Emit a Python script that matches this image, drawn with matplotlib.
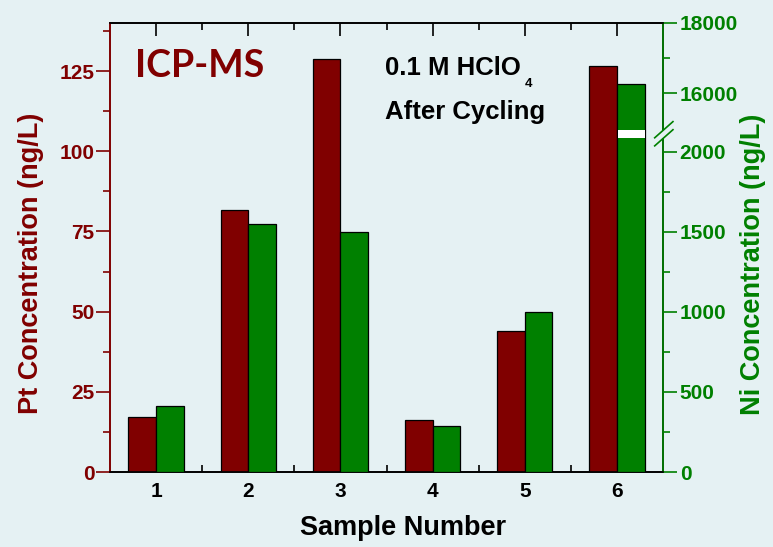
import numpy as np
import matplotlib
matplotlib.use("Agg")
import matplotlib.pyplot as plt
from matplotlib.ticker import FixedLocator

# ---- data ----
samples = [1, 2, 3, 4, 5, 6]
pt_conc = [17.0, 81.6, 128.9, 16.1, 44.0, 126.7]       # ng/L, left axis
ni_conc = [410, 1550, 1500, 287, 1000, 16250]          # ng/L, right axis (broken)

pt_ticks = [0, 25, 50, 75, 100, 125]
ni_ticks = [0, 500, 1000, 1500, 2000, 16000, 18000]
ni_minor = [250, 750, 1250, 1750, 17000]

# broken right axis: lower segment 0..BRK_LO, upper BRK_HI..18000
BRK_LO, BRK_HI = 2100, 14900
GAP = 28.0          # size of the break, in lower-segment units
K_UP = 0.21875      # upper segment compression vs lower
BAR_GAP = (2085, 14931)  # white cut through the tall Ni bar

RED = "#800000"
GREEN = "#008000"
BG = "#e5f1f3"
FONT = ["Liberation Sans", "DejaVu Sans"]


def fwd(v):
    v = np.asarray(v, dtype=float)
    mid = BRK_LO + (v - BRK_LO) * GAP / (BRK_HI - BRK_LO)
    up = BRK_LO + GAP + (v - BRK_HI) * K_UP
    return np.where(v <= BRK_LO, v, np.where(v >= BRK_HI, up, mid))


def inv(y):
    y = np.asarray(y, dtype=float)
    mid = BRK_LO + (y - BRK_LO) * (BRK_HI - BRK_LO) / GAP
    up = BRK_HI + (y - BRK_LO - GAP) / K_UP
    return np.where(y <= BRK_LO, y, np.where(y >= BRK_LO + GAP, up, mid))


plt.rcParams["font.family"] = FONT
plt.rcParams["font.weight"] = "bold"

fig = plt.figure(figsize=(7.73, 5.47), dpi=100, facecolor=BG)
ax = fig.add_axes([110 / 773, 1 - 472 / 547, 553 / 773, 449 / 547], facecolor=BG)
ax2 = ax.twinx()

x = np.array(samples, dtype=float)
w = 0.30
ax.bar(x - w / 2, pt_conc, width=w, color=RED, edgecolor="black", linewidth=0.9, zorder=3)

ax2.set_yscale("function", functions=(fwd, inv))
ax2.set_ylim(0, 18000)
ax2.bar(x + w / 2, ni_conc, width=w, color=GREEN, edgecolor="black", linewidth=0.9, zorder=3)
# white cut through the bar that crosses the break
ax2.bar(x[-1] + w / 2 + 0.01, BAR_GAP[1] - BAR_GAP[0], bottom=BAR_GAP[0], width=w,
        color="white", linewidth=0, zorder=4)

# ---- left axis ----
ax.set_xlim(0.5, 6.5)
ax.set_ylim(0, 140)
ax.set_yticks(pt_ticks)
ax.yaxis.set_minor_locator(FixedLocator(np.arange(12.5, 140, 25)))
ax.tick_params(axis="y", which="major", direction="out", length=10, width=1.2,
               color=RED, labelcolor=RED, labelsize=15, pad=1)
ax.tick_params(axis="y", which="minor", direction="out", length=5, width=1.2, color=RED)
ax.set_ylabel("Pt Concentration (ng/L)", color=RED, fontsize=19.5, fontweight="bold")
ax.yaxis.set_label_coords(-0.119, 0.465)

ax.set_xticks(samples)
ax.xaxis.set_minor_locator(FixedLocator(np.arange(1.5, 6.0, 1.0)))
ax.tick_params(axis="x", which="major", direction="in", length=9, width=1.2,
               top=True, labelsize=15, pad=7)
ax.tick_params(axis="x", which="minor", direction="in", length=5, width=1.2, top=True)
ax.set_xlabel("Sample Number", fontsize=19.5, fontweight="bold")
ax.xaxis.set_label_coords(0.530, -0.096)

# ---- right axis ----
ax2.yaxis.set_major_locator(FixedLocator(ni_ticks))
ax2.yaxis.set_minor_locator(FixedLocator(ni_minor))
ax2.set_yticklabels([str(t) for t in ni_ticks])
ax2.tick_params(axis="y", which="major", direction="out", length=10, width=1.2,
                color=GREEN, labelcolor=GREEN, labelsize=15, pad=2)
ax2.tick_params(axis="y", which="minor", direction="out", length=5, width=1.2, color=GREEN)
ax2.set_ylabel("Ni Concentration (ng/L)", color=GREEN, fontsize=19.5, fontweight="bold")
ax2.yaxis.set_label_coords(1.139, 0.462)

for a in (ax, ax2):
    for s in a.spines.values():
        s.set_linewidth(1.2)
ax.spines["left"].set_color(RED)
ax2.spines["left"].set_color(RED)
ax2.spines["right"].set_color(GREEN)

# break marks on the right spine
yb = (fwd(BRK_LO) + GAP / 2) / fwd(18000)
ax2.add_patch(plt.Rectangle((0.99, yb - 0.009), 0.02, 0.018, transform=ax2.transAxes,
                            facecolor=BG, edgecolor="none", clip_on=False, zorder=5))
for dy in (-0.009, 0.009):
    ax2.plot([0.985, 1.018], [yb + dy - 0.018, yb + dy + 0.018], transform=ax2.transAxes,
             color=GREEN, lw=1.2, clip_on=False, zorder=6)

# ---- annotations ----
ax.text(0.045, 0.880, "ICP-MS", transform=ax.transAxes, color=RED, fontsize=27,
        fontweight="bold", family=["Lato", "DejaVu Sans"], va="baseline", ha="left")
t1 = ax.text(0.497, 0.884, "0.1 M HClO", transform=ax.transAxes, fontsize=18.5,
             fontweight="bold", va="baseline", ha="left")
ax.annotate("4", xy=(1, 0), xycoords=t1, xytext=(3, -5), textcoords="offset points",
            fontsize=9.5, fontweight="bold", va="baseline", ha="left")
ax.text(0.497, 0.786, "After Cycling", transform=ax.transAxes, fontsize=18.5,
        fontweight="bold", va="baseline", ha="left")

fig.savefig("out.png", dpi=100, facecolor=BG)
